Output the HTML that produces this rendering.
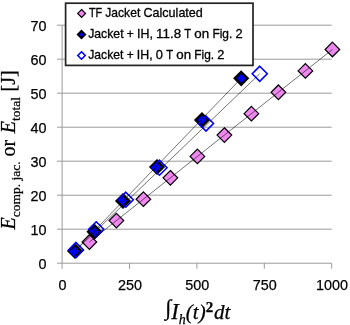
<!DOCTYPE html>
<html><head><meta charset="utf-8"><style>html,body{margin:0;padding:0;background:#fff;overflow:hidden;width:350px;height:325px;}svg{display:block;}</style></head>
<body>
<svg width="350" height="325" viewBox="0 0 350 325">
<rect width="350" height="325" fill="#fff"/>
<path d="M62.1 229.20H331.7M62.1 195.20H331.7M62.1 161.20H331.7M62.1 127.20H331.7M62.1 93.20H331.7M62.1 59.20H331.7M62.1 25.20H331.7" stroke="#9a9a9a" stroke-width="1" fill="none"/>
<path d="M62.1 25.20V263.2M62.1 263.2H331.7M57 263.20H62.1M57 229.20H62.1M57 195.20H62.1M57 161.20H62.1M57 127.20H62.1M57 93.20H62.1M57 59.20H62.1M57 25.20H62.1M62.10 263.2V268.7M129.50 263.2V268.7M196.90 263.2V268.7M264.30 263.2V268.7M331.70 263.2V268.7" stroke="#9a9a9a" stroke-width="1" fill="none"/>
<path d="M89.40 234.70L96.70 242.00L89.40 249.30L82.10 242.00Z" fill="#EE88EE" stroke="#000" stroke-width="1.2"/>
<path d="M116.40 213.31L123.70 220.61L116.40 227.91L109.10 220.61Z" fill="#EE88EE" stroke="#000" stroke-width="1.2"/>
<path d="M143.40 191.92L150.70 199.22L143.40 206.52L136.10 199.22Z" fill="#EE88EE" stroke="#000" stroke-width="1.2"/>
<path d="M170.40 170.53L177.70 177.83L170.40 185.13L163.10 177.83Z" fill="#EE88EE" stroke="#000" stroke-width="1.2"/>
<path d="M197.40 149.14L204.70 156.44L197.40 163.74L190.10 156.44Z" fill="#EE88EE" stroke="#000" stroke-width="1.2"/>
<path d="M224.40 127.75L231.70 135.05L224.40 142.35L217.10 135.05Z" fill="#EE88EE" stroke="#000" stroke-width="1.2"/>
<path d="M251.40 106.36L258.70 113.66L251.40 120.96L244.10 113.66Z" fill="#EE88EE" stroke="#000" stroke-width="1.2"/>
<path d="M278.40 84.97L285.70 92.27L278.40 99.57L271.10 92.27Z" fill="#EE88EE" stroke="#000" stroke-width="1.2"/>
<path d="M305.40 63.58L312.70 70.88L305.40 78.18L298.10 70.88Z" fill="#EE88EE" stroke="#000" stroke-width="1.2"/>
<path d="M332.40 42.19L339.70 49.49L332.40 56.79L325.10 49.49Z" fill="#EE88EE" stroke="#000" stroke-width="1.2"/>
<path d="M75.00 244.75L81.25 251.00L75.00 257.25L68.75 251.00Z" fill="#0000FF" stroke="#000" stroke-width="2.6"/>
<path d="M94.50 225.45L100.75 231.70L94.50 237.95L88.25 231.70Z" fill="#0000FF" stroke="#000" stroke-width="2.6"/>
<path d="M123.00 194.75L129.25 201.00L123.00 207.25L116.75 201.00Z" fill="#0000FF" stroke="#000" stroke-width="2.6"/>
<path d="M157.00 160.75L163.25 167.00L157.00 173.25L150.75 167.00Z" fill="#0000FF" stroke="#000" stroke-width="2.6"/>
<path d="M202.00 113.85L208.25 120.10L202.00 126.35L195.75 120.10Z" fill="#0000FF" stroke="#000" stroke-width="2.6"/>
<path d="M241.20 72.05L247.45 78.30L241.20 84.55L234.95 78.30Z" fill="#0000FF" stroke="#000" stroke-width="2.6"/>
<path d="M76.00 242.50L83.50 250.00L76.00 257.50L68.50 250.00Z" fill="none" stroke="#0000FF" stroke-width="1.6"/>
<path d="M96.20 221.80L103.70 229.30L96.20 236.80L88.70 229.30Z" fill="none" stroke="#0000FF" stroke-width="1.6"/>
<path d="M125.80 192.20L133.30 199.70L125.80 207.20L118.30 199.70Z" fill="none" stroke="#0000FF" stroke-width="1.6"/>
<path d="M159.50 160.20L167.00 167.70L159.50 175.20L152.00 167.70Z" fill="none" stroke="#0000FF" stroke-width="1.6"/>
<path d="M206.00 116.00L213.50 123.50L206.00 131.00L198.50 123.50Z" fill="none" stroke="#0000FF" stroke-width="1.6"/>
<path d="M259.75 66.25L267.25 73.75L259.75 81.25L252.25 73.75Z" fill="none" stroke="#0000FF" stroke-width="1.6"/>
<path d="M89.40 242.00L332.40 49.49M75.00 251.00L241.20 78.30M76.00 250.00L259.75 73.75" stroke="#000" stroke-opacity="0.55" stroke-width="1" fill="none"/>
<rect x="65.6" y="3.2" width="187.4" height="62.2" fill="#fff" stroke="#222" stroke-width="1.7"/>
<path d="M81.60 9.50L85.50 13.40L81.60 17.30L77.70 13.40Z" fill="#EE88EE" stroke="#000" stroke-width="1.2"/>
<path d="M81.50 31.00L85.10 34.60L81.50 38.20L77.90 34.60Z" fill="#0000FF" stroke="#000" stroke-width="2"/>
<path d="M81.50 51.80L85.20 55.50L81.50 59.20L77.80 55.50Z" fill="#fff" stroke="#0000FF" stroke-width="1.6"/>
<g font-family="Liberation Sans, Arial, sans-serif" font-size="12.6" fill="#000" stroke="#000" stroke-width="0.3">
<text x="88.90" y="17" textLength="13.22" lengthAdjust="spacingAndGlyphs">TF</text><text x="105.27" y="17" textLength="35.01" lengthAdjust="spacingAndGlyphs">Jacket</text><text x="143.44" y="17" textLength="59.42" lengthAdjust="spacingAndGlyphs">Calculated</text>
<text x="88.17" y="38" textLength="35.41" lengthAdjust="spacingAndGlyphs">Jacket</text><text x="126.77" y="38" textLength="7.03" lengthAdjust="spacingAndGlyphs">+</text><text x="137.00" y="38" textLength="15.88" lengthAdjust="spacingAndGlyphs">IH,</text><text x="156.07" y="38" textLength="25.03" lengthAdjust="spacingAndGlyphs">11.8</text><text x="184.29" y="38" textLength="6.88" lengthAdjust="spacingAndGlyphs">T</text><text x="194.37" y="38" textLength="14.86" lengthAdjust="spacingAndGlyphs">on</text><text x="212.42" y="38" textLength="19.94" lengthAdjust="spacingAndGlyphs">Fig.</text><text x="235.55" y="38" textLength="7.16" lengthAdjust="spacingAndGlyphs">2</text>
<text x="88.17" y="59" textLength="35.31" lengthAdjust="spacingAndGlyphs">Jacket</text><text x="126.66" y="59" textLength="7.01" lengthAdjust="spacingAndGlyphs">+</text><text x="136.86" y="59" textLength="15.83" lengthAdjust="spacingAndGlyphs">IH,</text><text x="155.88" y="59" textLength="7.14" lengthAdjust="spacingAndGlyphs">0</text><text x="166.19" y="59" textLength="6.86" lengthAdjust="spacingAndGlyphs">T</text><text x="176.24" y="59" textLength="14.82" lengthAdjust="spacingAndGlyphs">on</text><text x="194.24" y="59" textLength="19.88" lengthAdjust="spacingAndGlyphs">Fig.</text><text x="217.31" y="59" textLength="7.14" lengthAdjust="spacingAndGlyphs">2</text>
</g>
<g font-family="Liberation Sans, Arial, sans-serif" font-size="15.4" fill="#000" stroke="#000" stroke-width="0.25">
<text x="46.6" y="268.57" text-anchor="end" textLength="8.0" lengthAdjust="spacingAndGlyphs">0</text>
<text x="46.6" y="234.57" text-anchor="end" textLength="16.0" lengthAdjust="spacingAndGlyphs">10</text>
<text x="46.6" y="200.57" text-anchor="end" textLength="16.0" lengthAdjust="spacingAndGlyphs">20</text>
<text x="46.6" y="166.57" text-anchor="end" textLength="16.0" lengthAdjust="spacingAndGlyphs">30</text>
<text x="46.6" y="132.57" text-anchor="end" textLength="16.0" lengthAdjust="spacingAndGlyphs">40</text>
<text x="46.6" y="98.57" text-anchor="end" textLength="16.0" lengthAdjust="spacingAndGlyphs">50</text>
<text x="46.6" y="64.57" text-anchor="end" textLength="16.0" lengthAdjust="spacingAndGlyphs">60</text>
<text x="46.6" y="30.57" text-anchor="end" textLength="16.0" lengthAdjust="spacingAndGlyphs">70</text>
<text x="62.50" y="289.9" text-anchor="middle" textLength="8.0" lengthAdjust="spacingAndGlyphs">0</text>
<text x="129.90" y="289.9" text-anchor="middle" textLength="24.0" lengthAdjust="spacingAndGlyphs">250</text>
<text x="197.30" y="289.9" text-anchor="middle" textLength="24.0" lengthAdjust="spacingAndGlyphs">500</text>
<text x="264.70" y="289.9" text-anchor="middle" textLength="24.0" lengthAdjust="spacingAndGlyphs">750</text>
<text x="332.10" y="289.9" text-anchor="middle" textLength="32.0" lengthAdjust="spacingAndGlyphs">1000</text>
</g>
<text font-family="Liberation Serif, Times New Roman, serif" font-size="20" fill="#000" stroke="#000" stroke-width="0.25" transform="translate(15.4 229.5) rotate(-90)"><tspan font-style="italic">E</tspan><tspan font-size="13.5" dy="4.2">comp. jac.</tspan><tspan dy="-4.2"> or </tspan><tspan font-style="italic" dx="1.5">E</tspan><tspan font-size="13.5" dy="4.2">total</tspan><tspan dy="-4.2" dx="0.5"> [J]</tspan></text>
<text font-family="Liberation Serif, Times New Roman, serif" font-size="21" fill="#000" stroke="#000" stroke-width="0.25" x="165.3" y="319"><tspan font-size="22" dy="-3.6">∫</tspan><tspan font-style="italic" font-size="22.5" dy="3.6">I</tspan><tspan font-style="italic" font-size="14" dy="5">h</tspan><tspan font-style="italic" dy="-5">(t)</tspan><tspan font-weight="bold" font-size="15" dy="-7">2</tspan><tspan font-style="italic" dy="7" dx="0.8">dt</tspan></text>
</svg>
</body></html>
